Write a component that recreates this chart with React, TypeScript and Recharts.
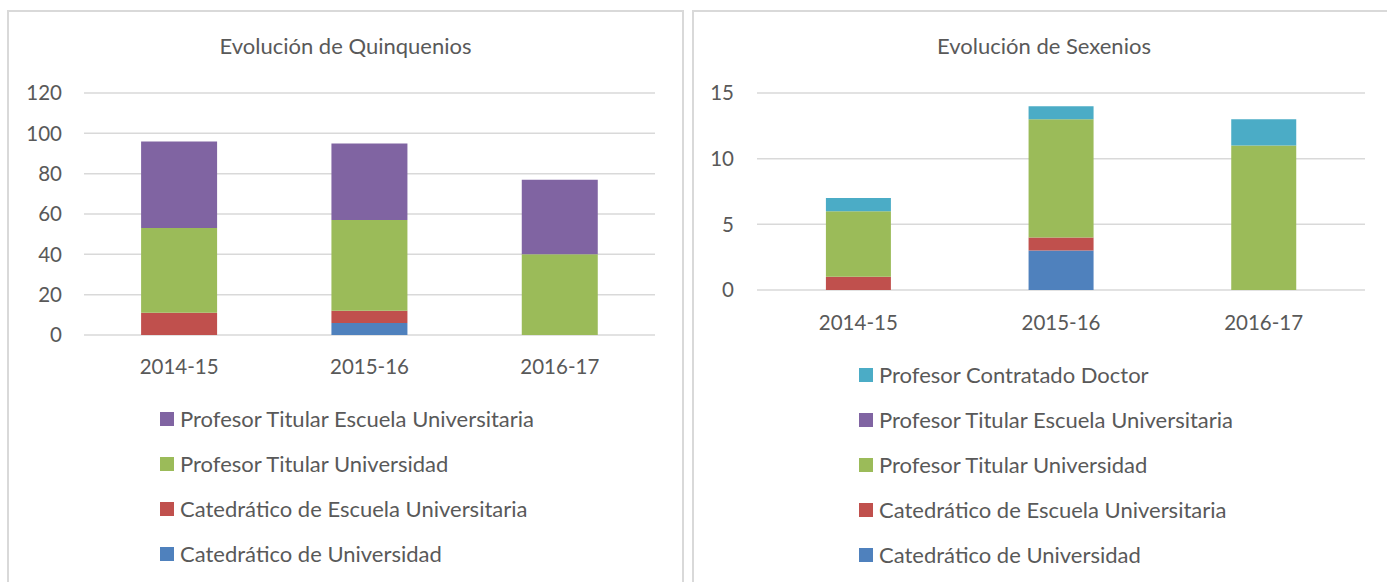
import React from 'react';
import { BarChart, Bar, XAxis, YAxis, CartesianGrid, Legend } from 'recharts';

const years = ['2014-15', '2015-16', '2016-17'];

// Quinquenios (stacked segments)
const qCatUniv = [0, 6, 0];
const qCatEscuela = [11, 6, 0];
const qTitUniv = [42, 45, 40];
const qTitEscuela = [43, 38, 37];
const qTicks = [0, 20, 40, 60, 80, 100, 120];

// Sexenios (stacked segments)
const sCatUniv = [0, 3, 0];
const sCatEscuela = [1, 1, 0];
const sTitUniv = [5, 9, 11];
const sTitEscuela = [0, 0, 0];
const sContratado = [1, 1, 2];
const sTicks = [0, 5, 10, 15];

const SERIES = [
  { key: 'catUniv', name: 'Catedrático de Universidad', color: '#4F81BD' },
  { key: 'catEscuela', name: 'Catedrático de Escuela Universitaria', color: '#C0504D' },
  { key: 'titUniv', name: 'Profesor Titular Universidad', color: '#9BBB59' },
  { key: 'titEscuela', name: 'Profesor Titular Escuela Universitaria', color: '#8064A2' },
  { key: 'contratado', name: 'Profesor Contratado Doctor', color: '#4BACC6' },
];

const FONT = 'Lato, "Open Sans", sans-serif';
const TEXT = '#595959';
const GRID = '#D9D9D9';

const quinqData = years.map((y, i) => ({
  year: y,
  catUniv: qCatUniv[i],
  catEscuela: qCatEscuela[i],
  titUniv: qTitUniv[i],
  titEscuela: qTitEscuela[i],
}));

const sexData = years.map((y, i) => ({
  year: y,
  catUniv: sCatUniv[i],
  catEscuela: sCatEscuela[i],
  titUniv: sTitUniv[i],
  titEscuela: sTitEscuela[i],
  contratado: sContratado[i],
}));

const tickStyle = { fill: TEXT, fontSize: 20.5, fontFamily: FONT };

// vertical legend, left aligned, top of the stack first
const StackLegend = ({ payload }: any) => {
  const order = SERIES.map((s) => s.name).reverse();
  const items = [...(payload || [])].sort((a: any, b: any) => order.indexOf(a.value) - order.indexOf(b.value));
  return (
    <div style={{ fontFamily: FONT }}>
      {items.map((entry: any) => (
        <div key={entry.value} style={{ height: 45, display: 'flex', alignItems: 'center' }}>
          <div style={{ width: 14, height: 14, background: entry.color, marginRight: 6 }} />
          <span style={{ fontSize: 22, color: TEXT, whiteSpace: 'nowrap' }}>{entry.value}</span>
        </div>
      ))}
    </div>
  );
};

const panelStyle: React.CSSProperties = {
  position: 'absolute',
  top: 10,
  height: 600,
  border: `2px solid ${GRID}`,
  boxSizing: 'border-box',
  background: '#fff',
};

const titleStyle: React.CSSProperties = {
  position: 'absolute',
  top: 20,
  left: 0,
  right: 0,
  textAlign: 'center',
  fontFamily: FONT,
  fontSize: 22,
  lineHeight: '28px',
  color: TEXT,
};

const renderBars = (keys: string[]) =>
  SERIES.filter((s) => keys.includes(s.key)).map((s) => (
    <Bar key={s.key} dataKey={s.key} name={s.name} stackId="a" fill={s.color} isAnimationActive={false} />
  ));

export default function App() {
  return (
    <div style={{ position: 'absolute', left: 0, top: 0, width: 1387, height: 582, overflow: 'hidden', background: '#fff' }}>
      <div style={{ ...panelStyle, left: 7, width: 677 }}>
        <div style={titleStyle}>Evolución de Quinquenios</div>
      </div>
      <div style={{ ...panelStyle, left: 692, width: 704 }}>
        <div style={titleStyle}>Evolución de Sexenios</div>
      </div>

      {/* Quinquenios */}
      <div style={{ position: 'absolute', left: 0, top: 0 }}>
        <BarChart
          width={690}
          height={582}
          data={quinqData}
          margin={{ top: 93, left: 24, right: 35, bottom: 207 }}
          barCategoryGap="30%"
        >
          <CartesianGrid vertical={false} stroke={GRID} strokeWidth={1.5} />
          <XAxis dataKey="year" axisLine={false} tickLine={false} tick={tickStyle} tickMargin={18} height={40} />
          <YAxis
            width={60}
            domain={[0, 120]}
            ticks={qTicks}
            axisLine={false}
            tickLine={false}
            tick={tickStyle}
            tickMargin={16}
          />
          <Legend
            layout="horizontal"
            verticalAlign="middle"
            align="center"
            content={<StackLegend />}
            wrapperStyle={{ left: 160, top: 396, width: 'auto', height: 'auto' }}
          />
          {renderBars(['catUniv', 'catEscuela', 'titUniv', 'titEscuela'])}
        </BarChart>
      </div>

      {/* Sexenios */}
      <div style={{ position: 'absolute', left: 690, top: 0 }}>
        <BarChart
          width={697}
          height={582}
          data={sexData}
          margin={{ top: 93, left: 7, right: 22, bottom: 252 }}
          barCategoryGap="34%"
        >
          <CartesianGrid vertical={false} stroke={GRID} strokeWidth={1.5} />
          <XAxis dataKey="year" axisLine={false} tickLine={false} tick={tickStyle} tickMargin={19} height={40} />
          <YAxis
            width={60}
            domain={[0, 15]}
            ticks={sTicks}
            axisLine={false}
            tickLine={false}
            tick={tickStyle}
            tickMargin={17}
          />
          <Legend
            layout="horizontal"
            verticalAlign="middle"
            align="center"
            content={<StackLegend />}
            wrapperStyle={{ left: 169, top: 352, width: 'auto', height: 'auto' }}
          />
          {renderBars(['catUniv', 'catEscuela', 'titUniv', 'titEscuela', 'contratado'])}
        </BarChart>
      </div>
    </div>
  );
}
